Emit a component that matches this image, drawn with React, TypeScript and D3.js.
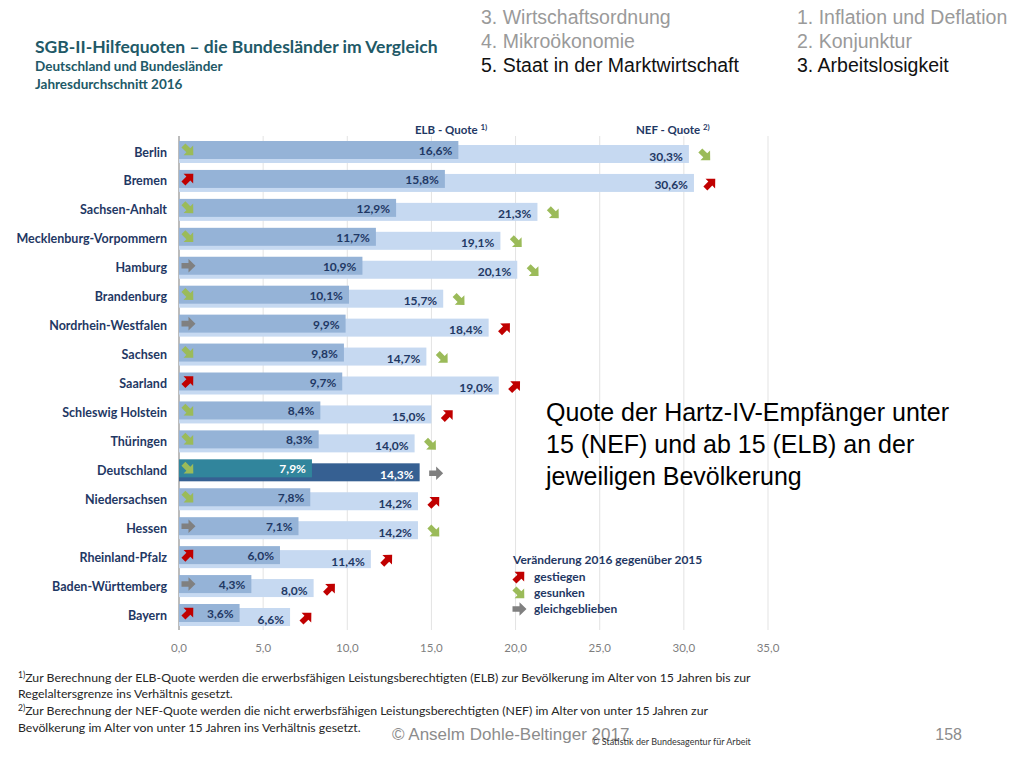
import * as d3 from "d3";

// Jahresdurchschnitt 2016, Quoten in %
const laender = [
  "Berlin", "Bremen", "Sachsen-Anhalt", "Mecklenburg-Vorpommern", "Hamburg",
  "Brandenburg", "Nordrhein-Westfalen", "Sachsen", "Saarland", "Schleswig Holstein",
  "Thüringen", "Deutschland", "Niedersachsen", "Hessen", "Rheinland-Pfalz",
  "Baden-Württemberg", "Bayern",
];
const elbQuote = [16.6, 15.8, 12.9, 11.7, 10.9, 10.1, 9.9, 9.8, 9.7, 8.4, 8.3, 7.9, 7.8, 7.1, 6.0, 4.3, 3.6];
const nefQuote = [30.3, 30.6, 21.3, 19.1, 20.1, 15.7, 18.4, 14.7, 19.0, 15.0, 14.0, 14.3, 14.2, 14.2, 11.4, 8.0, 6.6];
// Veränderung gegenüber 2015: "up" gestiegen, "down" gesunken, "same" gleichgeblieben
const elbTrend = ["down", "up", "down", "down", "same", "down", "same", "down", "up", "down", "down", "down", "down", "same", "up", "same", "up"];
const nefTrend = ["down", "up", "down", "down", "down", "down", "up", "down", "up", "up", "down", "same", "up", "down", "up", "up", "up"];
const xTicks = [0, 5, 10, 15, 20, 25, 30, 35];

const legendItems = [
  { trend: "up", label: "gestiegen" },
  { trend: "down", label: "gesunken" },
  { trend: "same", label: "gleichgeblieben" },
];

const W = 1024;
const H = 768;
const navy = "#1f3864";
const font = "Lato, 'Open Sans', sans-serif";
const arial = "'Liberation Sans', Arial, sans-serif";

const trendColor: Record<string, string> = { up: "#c00000", down: "#9bbb59", same: "#808080" };
const trendAngle: Record<string, number> = { up: -45, down: 45, same: 0 };
const arrowD = "M-6.5,-2.8 L0.5,-2.8 L0.5,-6.8 L7.5,0 L0.5,6.8 L0.5,2.8 L-6.5,2.8 Z";

function Arrow({ x, y, trend }: { x: number; y: number; trend: string }) {
  return (
    <path
      d={arrowD}
      fill={trendColor[trend]}
      transform={`translate(${x},${y}) rotate(${trendAngle[trend]})`}
    />
  );
}

export default function App() {
  const x = d3.scaleLinear().domain([0, 35]).range([179, 768]);
  const y = d3.scalePoint<string>().domain(laender).range([152, 615]);
  const fmt = (v: number) => d3.format(".1f")(v).replace(".", ",");

  return (
    <div style={{ position: "absolute", left: 0, top: 0 }}>
      <svg width={W} height={H} style={{ display: "block", background: "#fff" }}>
        {/* Titel */}
        <text x={35} y={53} fontFamily={font} fontWeight={700} fontSize={17.5} fill="#215967">
          SGB-II-Hilfequoten  –  die Bundesländer im Vergleich
        </text>
        <text x={35} y={71} fontFamily={font} fontWeight={700} fontSize={13.5} fill="#215967">
          Deutschland und Bundesländer
        </text>
        <text x={35} y={89} fontFamily={font} fontWeight={700} fontSize={13.5} fill="#215967">
          Jahresdurchschnitt  2016
        </text>

        {/* Kapitelnavigation */}
        <g fontFamily={arial} fontSize={19.5}>
          <text x={481} y={24} fill="#9a9a9a">3. Wirtschaftsordnung</text>
          <text x={481} y={48} fill="#9a9a9a">4. Mikroökonomie</text>
          <text x={481} y={72} fill="#111">5. Staat in der Marktwirtschaft</text>
          <text x={797} y={24} fill="#9a9a9a">1. Inflation und Deflation</text>
          <text x={797} y={48} fill="#9a9a9a">2. Konjunktur</text>
          <text x={797} y={72} fill="#111">3. Arbeitslosigkeit</text>
        </g>

        {/* Gitter */}
        {xTicks.slice(1).map((t) => (
          <line key={t} x1={x(t)} x2={x(t)} y1={136} y2={630} stroke="#e3e3e3" strokeWidth={1} />
        ))}
        <line x1={x(0)} x2={x(0)} y1={136} y2={630} stroke="#a6a6a6" strokeWidth={1.5} />
        {xTicks.map((t) => (
          <text key={t} x={x(t)} y={652} textAnchor="middle" fontFamily={font} fontSize={11.5} fill="#7f7f7f">
            {fmt(t)}
          </text>
        ))}

        {/* Spaltenköpfe */}
        <text x={415} y={134} fontFamily={font} fontWeight={700} fontSize={11.5} fill={navy}>
          ELB - Quote <tspan fontSize={8} dy={-4}>1)</tspan>
        </text>
        <text x={636} y={134} fontFamily={font} fontWeight={700} fontSize={11.5} fill={navy}>
          NEF - Quote <tspan fontSize={8} dy={-4}>2)</tspan>
        </text>

        {/* Balken */}
        {laender.map((name, i) => {
          const cy = y(name) as number;
          const isDE = name === "Deutschland";
          const nefEnd = x(nefQuote[i]);
          const elbEnd = x(elbQuote[i]);
          return (
            <g key={name}>
              <text x={167} y={cy + 4.5} textAnchor="end" fontFamily={font} fontWeight={700} fontSize={12.5} fill={navy}>
                {name}
              </text>
              <rect x={x(0)} y={cy - 7} width={nefEnd - x(0)} height={18} fill={isDE ? "#366092" : "#c6d9f1"} />
              <rect x={x(0)} y={cy - 11} width={elbEnd - x(0)} height={18} fill={isDE ? "#31859c" : "#95b3d7"} />
              <text x={elbEnd - 6} y={cy + 3} textAnchor="end" fontFamily={font} fontWeight={700} fontSize={12} fill={isDE ? "#fff" : navy}>
                {fmt(elbQuote[i])}%
              </text>
              <text x={nefEnd - 6} y={cy + 8.5} textAnchor="end" fontFamily={font} fontWeight={700} fontSize={12} fill={isDE ? "#fff" : navy}>
                {fmt(nefQuote[i])}%
              </text>
              <Arrow x={x(0) + 9} y={cy - 2} trend={elbTrend[i]} />
              <Arrow x={nefEnd + 16} y={cy + 3} trend={nefTrend[i]} />
            </g>
          );
        })}

        {/* Erläuterung */}
        <g fontFamily={arial} fontSize={25} fill="#000">
          <text x={546} y={421}>Quote der Hartz-IV-Empfänger unter</text>
          <text x={546} y={453}>15 (NEF) und ab 15 (ELB) an der</text>
          <text x={546} y={485}>jeweiligen Bevölkerung</text>
        </g>

        {/* Legende */}
        <text x={513} y={564} fontFamily={font} fontWeight={700} fontSize={12} fill={navy}>
          Veränderung 2016 gegenüber 2015
        </text>
        {legendItems.map((d, i) => (
          <g key={d.trend}>
            <Arrow x={519} y={577 + i * 16} trend={d.trend} />
            <text x={534} y={581 + i * 16} fontFamily={font} fontWeight={700} fontSize={12} fill={navy}>
              {d.label}
            </text>
          </g>
        ))}

        {/* Fußnoten */}
        <g fontFamily={font} fontSize={12.3} fill="#262626">
          <text x={18} y={682}>
            <tspan fontSize={8.5} dy={-4}>1)</tspan>
            <tspan dy={4}>Zur Berechnung der ELB-Quote werden die erwerbsfähigen Leistungsberechtigten (ELB) zur Bevölkerung im Alter von 15 Jahren bis zur</tspan>
          </text>
          <text x={18} y={698}>Regelaltersgrenze ins Verhältnis gesetzt.</text>
          <text x={18} y={715}>
            <tspan fontSize={8.5} dy={-4}>2)</tspan>
            <tspan dy={4}>Zur Berechnung der NEF-Quote werden die nicht erwerbsfähigen Leistungsberechtigten (NEF) im Alter von unter 15 Jahren zur</tspan>
          </text>
          <text x={18} y={732}>Bevölkerung im Alter von unter 15 Jahren ins Verhältnis gesetzt.</text>
        </g>
        <text x={392} y={740} fontFamily={arial} fontSize={17} fill="#8c8c8c">© Anselm Dohle-Beltinger 2017</text>
        <text x={592} y={745} fontFamily={font} fontSize={9} fill="#333">© Statistik der Bundesagentur für Arbeit</text>
        <text x={962} y={740} textAnchor="end" fontFamily={arial} fontSize={16} fill="#8c8c8c">158</text>
      </svg>
    </div>
  );
}
